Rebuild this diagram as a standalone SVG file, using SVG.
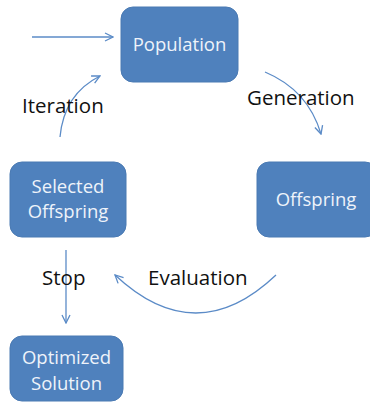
<svg xmlns="http://www.w3.org/2000/svg" width="370" height="402" viewBox="0 0 370 402">
<defs>
<marker id="arr" viewBox="0 0 10 10" refX="9" refY="5" markerWidth="10" markerHeight="10" markerUnits="userSpaceOnUse" orient="auto">
<path d="M1,1 L9,5 L1,9" fill="none" stroke="#5B8BC7" stroke-width="1.3"/>
</marker>
<style>
.box{fill:#4F81BD;stroke:#4A7AB3;stroke-width:1}
.bt{font-family:"Open Sans","Liberation Sans",sans-serif;font-size:18.5px;fill:#EEF3FA;text-anchor:middle}
.lb{font-family:"Open Sans","Liberation Sans",sans-serif;font-size:20.5px;fill:#111}
.c{fill:none;stroke:#5B8BC7;stroke-width:1.3;marker-end:url(#arr)}
</style>
</defs>
<rect width="370" height="402" fill="#fff"/>
<g id="connectors">
<path class="c" d="M32,37 L113,37"/>
<path class="c" d="M60,137 Q64,94 100,76"/>
<path class="c" d="M265,72 Q308,90 321,134"/>
<path class="c" d="M276,275 Q196,351 115,275"/>
<path class="c" d="M66,250 L66,323"/>
</g>
<g id="population">
<rect class="box" x="121" y="7" width="117" height="75" rx="12"/>
<text class="bt" x="179.5" y="51">Population</text>
</g>
<g id="offspring">
<rect class="box" x="257" y="162" width="120" height="75" rx="12"/>
<text class="bt" x="316" y="206">Offspring</text>
</g>
<g id="selected">
<rect class="box" x="10" y="162" width="116" height="75" rx="12"/>
<text class="bt" x="68" y="193">Selected</text>
<text class="bt" x="68" y="218">Offspring</text>
</g>
<g id="optimized">
<rect class="box" x="10" y="336" width="113" height="65" rx="12"/>
<text class="bt" x="66.5" y="364">Optimized</text>
<text class="bt" x="66.5" y="390">Solution</text>
</g>
<g id="labels">
<text class="lb" x="22" y="113">Iteration</text>
<text class="lb" x="247" y="105">Generation</text>
<text class="lb" x="42" y="285">Stop</text>
<text class="lb" x="148" y="285">Evaluation</text>
</g>
</svg>
